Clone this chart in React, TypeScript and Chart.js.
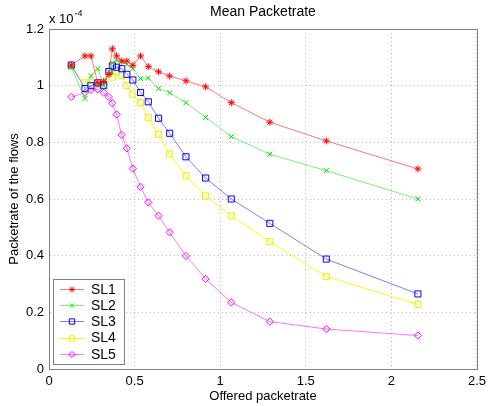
import React, { useEffect, useRef } from "react";
import Chart from "chart.js/auto";

const offeredRate = [0.13, 0.21, 0.245, 0.285, 0.32, 0.35, 0.37, 0.395, 0.425, 0.455, 0.49, 0.535, 0.58, 0.64, 0.705, 0.8, 0.915, 1.065, 1.29, 1.62, 2.155];

const SL1 = [1.073, 1.105, 1.105, 1.01, 1.015, 1.04, 1.13, 1.105, 1.087, 1.087, 1.072, 1.105, 1.067, 1.049, 1.034, 1.017, 0.996, 0.94, 0.871, 0.805, 0.706];
const SL2 = [1.065, 0.955, 1.035, 1.06, 1.0, 1.05, 1.08, 1.09, 1.085, 1.075, 1.06, 1.025, 1.027, 0.99, 0.975, 0.94, 0.888, 0.82, 0.758, 0.7, 0.6];
const SL3 = [1.073, 0.99, 1.0, 1.01, 1.0, 1.05, 1.07, 1.065, 1.06, 1.04, 1.02, 0.976, 0.943, 0.885, 0.832, 0.749, 0.674, 0.6, 0.514, 0.388, 0.265];
const SL4 = [1.067, 1.01, 1.01, 1.005, 1.01, 1.05, 1.03, 1.05, 1.035, 1.0, 0.97, 0.94, 0.887, 0.828, 0.759, 0.682, 0.611, 0.541, 0.449, 0.326, 0.228];
const SL5 = [0.96, 0.975, 0.985, 0.987, 0.975, 0.96, 0.938, 0.898, 0.826, 0.779, 0.707, 0.643, 0.588, 0.541, 0.482, 0.399, 0.318, 0.235, 0.167, 0.141, 0.118];

const seriesNames = ["SL1", "SL2", "SL3", "SL4", "SL5"];
const seriesValues = [SL1, SL2, SL3, SL4, SL5];

const chartTitle = "Mean Packetrate";
const xTitle = "Offered packetrate";
const yTitle = "Packetrate of the flows";
const yExponent = "-4";

const FONT = "'Liberation Sans', Arial, Helvetica, sans-serif";

const styles = [
  { color: "#ff0000", line: "rgba(255,60,60,0.7)", shape: "star", r: 3.5 },
  { color: "#00dd00", line: "rgba(60,240,60,0.7)", shape: "crossRot", r: 3.5 },
  { color: "#0000ff", line: "rgba(70,70,255,0.7)", shape: "rect", r: 4.3 },
  { color: "#eeee00", line: "rgba(250,250,0,0.9)", shape: "rect", r: 4.3 },
  { color: "#ff00ff", line: "rgba(255,60,255,0.7)", shape: "rectRot", r: 3.6 },
];

function drawMarker(ctx: CanvasRenderingContext2D, shape: string, x: number, y: number, r: number, color: string) {
  ctx.save();
  ctx.strokeStyle = color;
  ctx.lineWidth = 1;
  ctx.beginPath();
  if (shape === "star") {
    ctx.moveTo(x - r, y); ctx.lineTo(x + r, y);
    ctx.moveTo(x, y - r); ctx.lineTo(x, y + r);
    const d = r * Math.SQRT1_2;
    ctx.moveTo(x - d, y - d); ctx.lineTo(x + d, y + d);
    ctx.moveTo(x - d, y + d); ctx.lineTo(x + d, y - d);
  } else if (shape === "crossRot") {
    const d = r * Math.SQRT1_2;
    ctx.moveTo(x - d, y - d); ctx.lineTo(x + d, y + d);
    ctx.moveTo(x - d, y + d); ctx.lineTo(x + d, y - d);
  } else if (shape === "rect") {
    const s = r * Math.SQRT1_2;
    ctx.rect(x - s, y - s, 2 * s, 2 * s);
  } else {
    ctx.moveTo(x - r, y); ctx.lineTo(x, y - r); ctx.lineTo(x + r, y); ctx.lineTo(x, y + r); ctx.closePath();
  }
  ctx.stroke();
  ctx.restore();
}

const decorPlugin = {
  id: "decor",
  afterDraw(chart: any) {
    const ctx: CanvasRenderingContext2D = chart.ctx;
    const a = chart.chartArea;
    ctx.save();
    // axes box
    ctx.strokeStyle = "#808080";
    ctx.lineWidth = 1;
    ctx.strokeRect(Math.round(a.left) + 0.5, Math.round(a.top) + 0.5, Math.round(a.right - a.left), Math.round(a.bottom - a.top));

    // title
    ctx.fillStyle = "#000";
    ctx.font = `14px ${FONT}`;
    ctx.textAlign = "center";
    ctx.textBaseline = "middle";
    ctx.fillText(chartTitle, (a.left + a.right) / 2, 12);

    // x title
    ctx.font = `13px ${FONT}`;
    ctx.fillText(xTitle, (a.left + a.right) / 2, 396);

    // y title
    ctx.save();
    ctx.translate(14, (a.top + a.bottom) / 2);
    ctx.rotate(-Math.PI / 2);
    ctx.fillText(yTitle, 0, 0);
    ctx.restore();

    // exponent
    ctx.textAlign = "left";
    ctx.textBaseline = "alphabetic";
    ctx.font = `13px ${FONT}`;
    const base = "x 10";
    ctx.fillText(base, a.left, 23);
    const w = ctx.measureText(base).width;
    ctx.font = `9px ${FONT}`;
    ctx.fillText(yExponent, a.left + w + 1, 16);

    // legend
    const lx = 53, ly = 279, lw = 71, lh = 85;
    ctx.fillStyle = "#fff";
    ctx.fillRect(lx, ly, lw, lh);
    ctx.strokeStyle = "#808080";
    ctx.strokeRect(lx + 0.5, ly + 0.5, lw, lh);
    ctx.font = `14px ${FONT}`;
    ctx.textBaseline = "middle";
    chart.data.datasets.forEach((ds: any, i: number) => {
      const y = 289 + i * 16.2;
      const st = styles[i];
      ctx.strokeStyle = st.line;
      ctx.lineWidth = 1;
      ctx.beginPath();
      ctx.moveTo(60, Math.round(y) + 0.5);
      ctx.lineTo(84, Math.round(y) + 0.5);
      ctx.stroke();
      drawMarker(ctx, st.shape, 72, Math.round(y) + 0.5, st.r - 0.5, st.color);
      ctx.fillStyle = "#000";
      ctx.fillText(ds.label, 91, y + 1);
    });
    ctx.restore();
  },
};

export default function App() {
  const ref = useRef<HTMLCanvasElement>(null);
  useEffect(() => {
    if (!ref.current) return;
    const datasets = seriesValues.map((vals, i) => ({
      label: seriesNames[i],
      data: offeredRate.map((x, j) => ({ x, y: vals[j] })),
      borderColor: styles[i].line,
      borderWidth: 1,
      pointStyle: styles[i].shape,
      pointRadius: styles[i].r,
      pointBorderColor: styles[i].color,
      pointBackgroundColor: "rgba(0,0,0,0)",
      pointBorderWidth: 1,
      fill: false,
      tension: 0,
    }));
    const tickFmt = (v: any) => String(Math.round(Number(v) * 10) / 10);
    const chart = new Chart(ref.current, {
      type: "line",
      data: { datasets } as any,
      options: {
        responsive: false,
        animation: false,
        events: [],
        layout: { padding: { left: 0, top: 29, right: 9, bottom: 0 } },
        plugins: { legend: { display: false }, tooltip: { enabled: false }, title: { display: false } },
        scales: {
          x: {
            type: "linear",
            min: 0,
            max: 2.5,
            ticks: { stepSize: 0.5, padding: 5, color: "#000", font: { family: FONT, size: 13 }, callback: tickFmt, maxRotation: 0 },
            grid: { color: "#b8b8b8", drawTicks: false, lineWidth: 1 },
            border: { display: true, color: "#808080", dash: [1, 3] },
            afterFit: (s: any) => { s.height = 37; },
          },
          y: {
            type: "linear",
            min: 0,
            max: 1.2,
            ticks: { stepSize: 0.2, padding: 5, color: "#000", font: { family: FONT, size: 13 }, callback: tickFmt },
            grid: { color: "#b8b8b8", drawTicks: false, lineWidth: 1 },
            border: { display: true, color: "#808080", dash: [1, 3] },
            afterFit: (s: any) => { s.width = 49; },
          },
        },
      } as any,
      plugins: [decorPlugin],
    });
    return () => chart.destroy();
  }, []);
  return (
    <div style={{ position: "absolute", left: 0, top: 0, width: 491, height: 406, background: "#fff" }}>
      <canvas ref={ref} width={491} height={406} style={{ display: "block", width: 491, height: 406 }} />
    </div>
  );
}
